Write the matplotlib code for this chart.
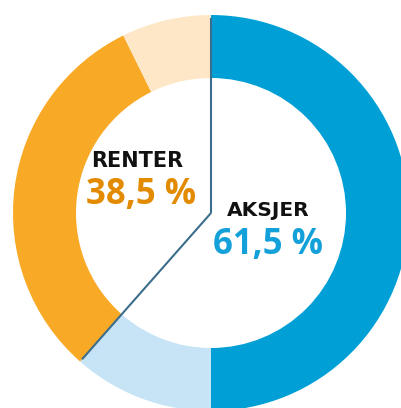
import matplotlib.pyplot as plt
import numpy as np

# shares in percent, clockwise from the top
segments = ['Aksjer', 'Aksjer (lys)', 'Renter', 'Renter (lys)']
values = [50.0, 11.5, 31.2, 7.3]
colors = ['#00a0d6', '#c6e4f5', '#f8a925', '#fee7c7']

labels = ['RENTER', 'AKSJER']
totals = ['38,5 %', '61,5 %']
total_colors = ['#e38b00', '#14a0d9']

W, H = 402, 408
cx, cy = 211, H - 213
R, ring = 198, 63

fig = plt.figure(figsize=(W / 100, H / 100), dpi=100)
ax = fig.add_axes([0, 0, 1, 1])
ax.pie(values, colors=colors, startangle=90, counterclock=False,
       radius=R, center=(cx, cy),
       wedgeprops=dict(width=ring, linewidth=0))

# divider between aksjer and renter
split = 90 - 360 * (values[0] + values[1]) / 100
for ang in [90, split]:
    a = np.radians(ang)
    ax.plot([cx, cx + R * 0.985 * np.cos(a)], [cy, cy + R * 0.985 * np.sin(a)],
            color='#3b6d8c', lw=1.5, solid_capstyle='butt')

ax.text(137, H - 161, labels[0], ha='center', va='center',
        fontsize=15, family='DejaVu Sans', fontweight='bold', color='#111111')
ax.text(141, H - 195, totals[0], ha='center', va='center',
        fontsize=25, family='Open Sans', fontweight='bold', color=total_colors[0])
ax.text(268, H - 211, labels[1], ha='center', va='center',
        fontsize=14.5, family='DejaVu Sans', fontweight='bold', color='#111111')
ax.text(268, H - 245, totals[1], ha='center', va='center',
        fontsize=25, family='Open Sans', fontweight='bold', color=total_colors[1])

ax.set_xlim(0, W)
ax.set_ylim(0, H)
ax.set_aspect('equal')
ax.axis('off')
fig.savefig('out.png', dpi=100)
